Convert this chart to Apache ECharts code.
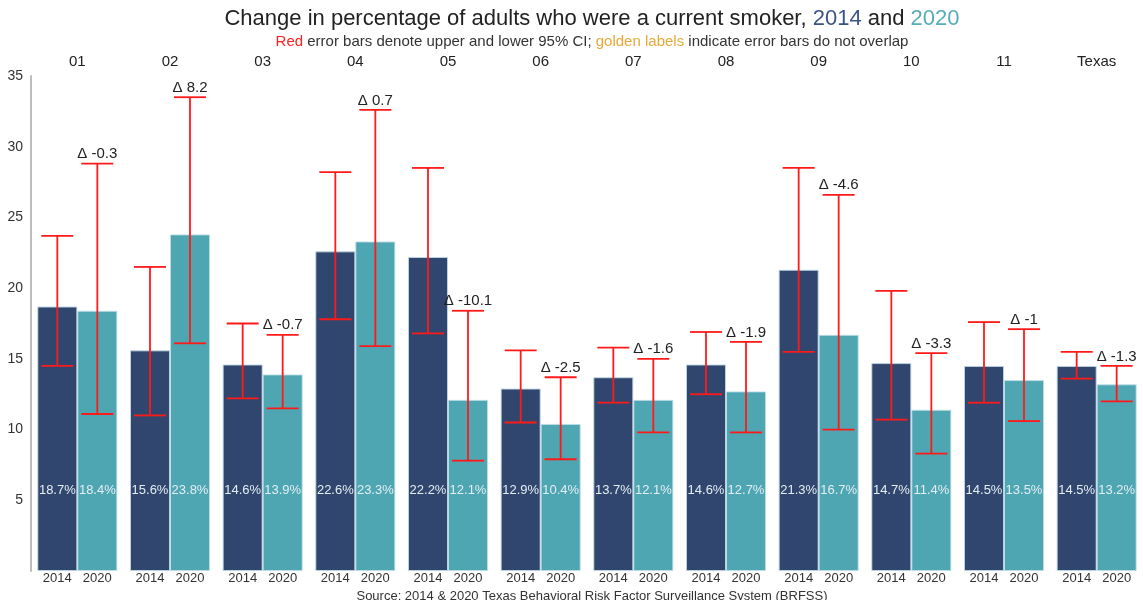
<!DOCTYPE html>
<html>
<head>
<meta charset="utf-8">
<title>Current smokers 2014 and 2020</title>
<script src="https://cdn.jsdelivr.net/npm/echarts@6/dist/echarts.min.js"></script>
<style>
  html, body { margin: 0; padding: 0; background: #fff; }
  #chart { width: 1143px; height: 600px; }
</style>
</head>
<body>
<div id="chart"></div>
<script>
// Public health regions plus the statewide figure
const regions = ['01', '02', '03', '04', '05', '06', '07', '08', '09', '10', '11', 'Texas'];
const years = ['2014', '2020'];

// Percentage of adults who were current smokers
const smoke2014 = [18.7, 15.6, 14.6, 22.6, 22.2, 12.9, 13.7, 14.6, 21.3, 14.7, 14.5, 14.5];
const smoke2020 = [18.4, 23.8, 13.9, 23.3, 12.1, 10.4, 12.1, 12.7, 16.7, 11.4, 13.5, 13.2];

// 95% confidence limits
const low2014  = [14.5, 11.0, 12.2, 17.8, 16.8, 10.5, 11.9, 12.5, 15.5, 10.7, 11.9, 13.6];
const high2014 = [23.7, 21.5, 17.5, 28.2, 28.5, 15.6, 15.8, 16.9, 28.5, 19.8, 17.6, 15.5];
const low2020  = [11.1, 16.1, 11.5, 15.9,  7.8,  7.9,  9.8,  9.8, 10.0,  8.3, 10.6, 12.0];
const high2020 = [28.8, 33.5, 16.7, 32.6, 18.4, 13.7, 15.0, 16.2, 26.6, 15.4, 17.1, 14.5];

const yTicks = [0, 5, 10, 15, 20, 25, 30, 35];

const NAVY = '#30466e';
const TEAL = '#4ea6b3';
const BAR_W = 40;
const TEXT_CENTER_X = 587;

function deltaOf(i) {
  return Math.round((smoke2020[i] - smoke2014[i]) * 10) / 10;
}
function ciSeparate(i) {
  return low2014[i] > high2020[i] || low2020[i] > high2014[i];
}

// Error bar with caps; the 2020 bar also carries the change label
function errorBarRenderer(offset, withDelta) {
  return function (params, api) {
    const idx = api.value(0);
    const x = api.coord([idx, 0])[0] + offset;
    const yLo = api.coord([idx, api.value(1)])[1];
    const yHi = api.coord([idx, api.value(2)])[1];
    const cap = 16;
    const style = { stroke: '#ff1a1a', lineWidth: 1.8 };
    const children = [
      { type: 'line', shape: { x1: x, y1: yLo, x2: x, y2: yHi }, style: style },
      { type: 'line', shape: { x1: x - cap, y1: yHi, x2: x + cap, y2: yHi }, style: style },
      { type: 'line', shape: { x1: x - cap, y1: yLo, x2: x + cap, y2: yLo }, style: style }
    ];
    if (withDelta) {
      children.push({
        type: 'text',
        style: {
          x: x, y: yHi - 2,
          text: '\u0394 ' + deltaOf(idx),
          align: 'center', verticalAlign: 'bottom',
          fill: ciSeparate(idx) ? '#e8a93a' : '#222',
          font: '15px "Liberation Sans", Arial, sans-serif'
        }
      });
    }
    return { type: 'group', children: children };
  };
}

const chart = echarts.init(document.getElementById('chart'), null, { renderer: 'canvas' });
const FONT = '"Liberation Sans", Arial, sans-serif';

const valueLabel = {
  show: true,
  position: 'insideBottom',
  distance: 74,
  color: '#e4edf2',
  fontSize: 13,
  fontFamily: FONT,
  formatter: p => p.value + '%'
};

function txt(size, color) {
  return { fontSize: size, color: color, fontFamily: FONT, fontWeight: 'normal' };
}

chart.setOption({
  animation: false,
  backgroundColor: '#fff',
  textStyle: { fontFamily: FONT },
  title: [
    {
      left: TEXT_CENTER_X, textAlign: 'center', top: 3,
      text: '{a|Change in percentage of adults who were a current smoker, }{b|2014}{a| and }{c|2020}',
      textStyle: {
        fontWeight: 'normal',
        rich: {
          a: txt(22, '#222'),
          b: txt(22, '#3b5488'),
          c: txt(22, '#56adb9')
        }
      }
    },
    {
      left: TEXT_CENTER_X, textAlign: 'center', top: 29,
      text: '{r|Red}{t| error bars denote upper and lower 95% CI; }{g|golden labels}{t| indicate error bars do not overlap}',
      textStyle: {
        fontWeight: 'normal',
        rich: {
          t: txt(15, '#333'),
          r: txt(15, '#ff2020'),
          g: txt(15, '#e8a93a')
        }
      }
    },
    {
      left: TEXT_CENTER_X, textAlign: 'center', top: 585,
      text: 'Source: 2014 & 2020 Texas Behavioral Risk Factor Surveillance System (BRFSS)',
      textStyle: txt(13, '#333')
    }
  ],
  grid: { left: 31, right: 0, top: 76, bottom: 29, containLabel: false },
  xAxis: [
    {
      type: 'category',
      position: 'bottom',
      data: regions,
      axisLine: { show: false },
      axisTick: { show: false },
      axisLabel: {
        margin: 1,
        interval: 0,
        formatter: () => '{y0|' + years[0] + '}{y1|' + years[1] + '}',
        rich: {
          y0: Object.assign({ width: BAR_W, align: 'center' }, txt(13, '#333')),
          y1: Object.assign({ width: BAR_W, align: 'center' }, txt(13, '#333'))
        }
      }
    },
    {
      type: 'category',
      position: 'top',
      data: regions,
      axisLine: { show: false },
      axisTick: { show: false },
      axisLabel: { margin: 7, interval: 0, fontSize: 15, color: '#222', fontFamily: FONT }
    }
  ],
  yAxis: {
    type: 'value',
    min: yTicks[0],
    max: yTicks[yTicks.length - 1],
    interval: yTicks[1] - yTicks[0],
    axisLine: { show: true, lineStyle: { color: '#bdbdbd', width: 2 } },
    axisTick: { show: false },
    splitLine: { show: false },
    axisLabel: {
      margin: 8,
      fontSize: 14,
      color: '#333',
      fontFamily: FONT,
      formatter: v => (v === 0 ? '' : String(v))
    }
  },
  series: [
    {
      name: years[0],
      type: 'bar',
      data: smoke2014,
      barWidth: BAR_W,
      barGap: '0%',
      itemStyle: { color: NAVY, borderColor: 'rgba(190,215,228,0.9)', borderWidth: 1 },
      label: valueLabel,
      z: 2
    },
    {
      name: years[1],
      type: 'bar',
      data: smoke2020,
      barWidth: BAR_W,
      barGap: '0%',
      itemStyle: { color: TEAL, borderColor: 'rgba(190,222,230,0.9)', borderWidth: 1 },
      label: valueLabel,
      z: 2
    },
    {
      name: 'CI ' + years[0],
      type: 'custom',
      renderItem: errorBarRenderer(-BAR_W / 2, false),
      encode: { x: 0, y: [1, 2] },
      data: regions.map((r, i) => [i, low2014[i], high2014[i]]),
      z: 5
    },
    {
      name: 'CI ' + years[1],
      type: 'custom',
      renderItem: errorBarRenderer(BAR_W / 2, true),
      encode: { x: 0, y: [1, 2] },
      data: regions.map((r, i) => [i, low2020[i], high2020[i]]),
      z: 5
    }
  ]
});
</script>
</body>
</html>
